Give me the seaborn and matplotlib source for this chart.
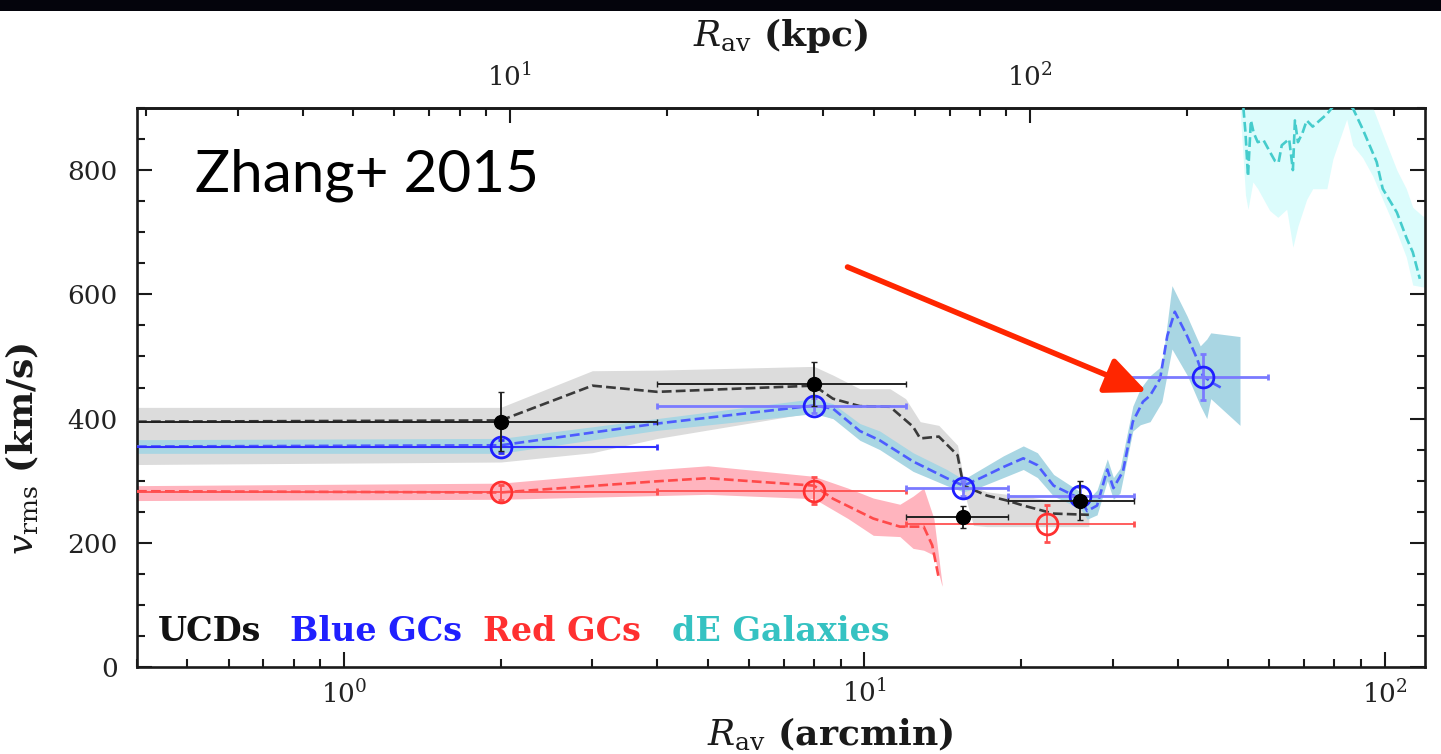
import numpy as np
import matplotlib
matplotlib.use("Agg")
import matplotlib.pyplot as plt
from matplotlib.patches import Rectangle
from matplotlib.ticker import MultipleLocator, FixedLocator, LogLocator, LogFormatterMathtext, NullFormatter
import seaborn as sns

# ---------------- binned measurements (R in arcmin, v_rms in km/s) ----------------
ucd_r = [2.0, 8.0, 15.5, 26.0]
ucd_v = [395, 456, 241, 268]
ucd_r_lo = [0.3, 4.0, 12.0, 18.9]
ucd_r_hi = [4.0, 12.0, 18.9, 33.0]
ucd_verr = [48, 35, 18, 32]

blue_r = [2.0, 8.0, 15.5, 26.0, 44.7]
blue_v = [355, 421, 288, 275, 467]
blue_r_lo = [0.3, 4.0, 12.0, 18.9, 30.0]
blue_r_hi = [4.0, 12.0, 18.9, 33.0, 59.6]
blue_verr = [10, 12, 12, 15, 37]

red_r = [2.0, 8.0, 22.4]
red_v = [281, 284, 231]
red_r_lo = [0.3, 4.0, 12.0]
red_r_hi = [4.0, 12.0, 33.0]
red_verr = [12, 22, 30]

# ---------------- running profiles: confidence band and running mean ----------------
ucd_band_r = [0.4, 2.0, 3.0, 4.0, 8.0, 8.7, 9.8, 11.2, 12.0, 12.8, 13.9, 15.1, 15.5, 16.2, 17.2, 18.8, 20.2, 23.1, 27.0]
ucd_band_lo = [326, 330, 345, 368, 410, 400, 380, 360, 345, 335, 320, 300, 285, 228, 226, 226, 226, 226, 226]
ucd_band_hi = [418, 418, 477, 478, 484, 470, 448, 448, 432, 395, 389, 357, 304, 290, 282, 278, 275, 268, 265]
ucd_mean_r = [0.4, 2.0, 3.0, 4.0, 8.0, 8.7, 9.8, 11.2, 12.4, 12.8, 13.9, 15.1, 15.5, 17.2, 18.8, 20.2, 23.1, 27.0]
ucd_mean_v = [395, 397, 453, 443, 453, 432, 420, 419, 387, 368, 371, 341, 292, 276, 268, 260, 247, 245]

blue_band_r = [0.4, 2.0, 4.0, 8.0, 8.7, 9.8, 10.7, 12.4, 14.4, 15.5, 16.7, 18.5, 20.2, 21.5, 23.1, 26.0,
               26.8, 28.0, 29.3, 30.1, 31.0, 32.8, 33.9, 35.4, 37.3, 39.0, 41.7, 44.2, 45.5, 46.3, 52.7]
blue_band_lo = [344, 344, 381, 408, 400, 365, 350, 315, 292, 282, 290, 305, 318, 305, 275, 255,
                238, 245, 300, 270, 280, 380, 390, 395, 427, 512, 470, 421, 400, 432, 389]
blue_band_hi = [366, 368, 400, 432, 424, 392, 380, 345, 318, 302, 318, 340, 356, 345, 310, 282,
                268, 285, 335, 305, 320, 420, 448, 469, 485, 614, 565, 517, 528, 538, 532]
blue_mean_r = [0.4, 2.0, 4.0, 8.0, 8.7, 9.8, 10.7, 12.4, 14.4, 15.5, 16.7, 18.5, 20.2, 21.5, 23.1, 26.0,
               26.8, 28.0, 29.3, 30.1, 31.4, 32.8, 34.3, 35.4, 37.0, 38.2, 39.5, 41.7, 43.6, 44.7, 46.5, 48.9]
blue_mean_v = [355, 357, 392, 421, 416, 380, 365, 331, 304, 292, 304, 322, 336, 325, 292, 271,
               251, 260, 318, 288, 315, 395, 427, 437, 464, 533, 572, 533, 496, 469, 458, 448]

red_band_r = [0.4, 2.0, 4.0, 5.0, 8.0, 9.3, 10.4, 11.7, 12.4, 13.0, 13.6, 14.1]
red_band_lo = [268, 270, 276, 278, 271, 239, 212, 210, 191, 188, 180, 130]
red_band_hi = [292, 296, 318, 324, 307, 288, 272, 262, 275, 288, 239, 134]
red_mean_r = [0.4, 2.0, 4.0, 5.0, 8.0, 8.7, 10.4, 11.7, 13.0, 13.5, 13.9]
red_mean_v = [283, 281, 299, 304, 292, 271, 239, 226, 226, 196, 143]

de_band_r = [52.7, 54.0, 54.6, 55.8, 57.0, 60.1, 62.3, 64.8, 66.6, 68.1, 70.8, 72.7, 77.4, 79.5,
             84.5, 86.8, 90.7, 94.9, 100.0, 105.5, 110.0, 113.2, 118.3, 121.0]
de_band_lo = [900, 760, 737, 781, 770, 735, 724, 737, 676, 710, 753, 770, 770, 818,
              882, 840, 820, 790, 745, 700, 660, 615, 612, 612]
de_band_hi = [960, 960, 960, 960, 960, 960, 960, 960, 960, 960, 960, 960, 960, 960,
              960, 930, 920, 900, 850, 800, 770, 740, 726, 726]
de_mean_r = [53.5, 54.0, 54.6, 55.3, 56.0, 57.0, 58.5, 60.1, 61.5, 62.5, 63.4, 65.5, 66.6, 67.2, 68.1,
             69.5, 70.8, 72.7, 75.0, 77.4, 80.0, 84.0, 86.8, 90.7, 96.5, 99.1, 105.5, 110.2, 113.2, 116.8]
de_mean_v = [900, 860, 790, 880, 860, 845, 848, 830, 815, 812, 840, 850, 800, 880, 845,
             860, 880, 870, 880, 890, 905, 905, 900, 866, 813, 770, 732, 690, 668, 625]

KPC_PER_ARCMIN = 4.8
kpc_major = [10, 100]
kpc_minor = [2, 3, 4, 5, 6, 7, 8, 9, 20, 30, 40, 50, 60, 70, 80, 90, 200, 300, 400, 500]

# ---------------- style ----------------
sns.set_theme(style="ticks")
plt.rcParams["font.family"] = ["DejaVu Serif"]
plt.rcParams["mathtext.fontset"] = "dejavuserif"
plt.rcParams["axes.linewidth"] = 1.9
plt.rcParams["axes.edgecolor"] = "#1a1a1a"

fig = plt.figure(figsize=(14.41, 7.54), dpi=100)
fig.patch.set_facecolor("white")
ax = fig.add_axes([137 / 1441, 1 - 667 / 754, (1425 - 137) / 1441, (667 - 108) / 754])
ax.set_facecolor("white")
ax.set_xscale("log")

# confidence bands
ax.fill_between(ucd_band_r, ucd_band_lo, ucd_band_hi, color="#dcdcdc", lw=0, zorder=1)
ax.fill_between(blue_band_r, blue_band_lo, blue_band_hi, color="#a9d6e3", lw=0, zorder=2)
ax.fill_between(red_band_r, red_band_lo, red_band_hi, color="#ffb4be", lw=0, zorder=2)
ax.fill_between(de_band_r, de_band_lo, de_band_hi, color="#dcfcfc", lw=0, zorder=2)

# running means
dash = (5.5, 3.5)
sns.lineplot(x=ucd_mean_r, y=ucd_mean_v, ax=ax, color="#3a3a3a", lw=1.9,
             linestyle="--", dashes=dash, sort=False, estimator=None, zorder=3)
sns.lineplot(x=blue_mean_r, y=blue_mean_v, ax=ax, color="#4d5cff", lw=1.9,
             linestyle="--", dashes=dash, sort=False, estimator=None, zorder=3)
sns.lineplot(x=red_mean_r, y=red_mean_v, ax=ax, color="#ff4a4a", lw=1.9,
             linestyle="--", dashes=dash, sort=False, estimator=None, zorder=3)
sns.lineplot(x=de_mean_r, y=de_mean_v, ax=ax, color="#45cccc", lw=1.9,
             linestyle="--", dashes=dash, sort=False, estimator=None, zorder=3)


def binned(r, v, lo, hi, verr, **kw):
    r = np.asarray(r, float)
    xerr = np.vstack([r - np.asarray(lo, float), np.asarray(hi, float) - r])
    ax.errorbar(r, v, xerr=xerr, yerr=verr, capsize=2.5, **kw)


binned(red_r, red_v, red_r_lo, red_r_hi, red_verr, fmt="o", ms=15, mfc="none",
       mec="#ff3030", mew=2, ecolor="#ff5050", elinewidth=1.3, zorder=5)
binned(blue_r[:1], blue_v[:1], blue_r_lo[:1], blue_r_hi[:1], blue_verr[:1], fmt="o", ms=15,
       mfc="none", mec="#1f1fff", mew=2, ecolor="#3030ff", elinewidth=1.5, zorder=6)
binned(blue_r[1:], blue_v[1:], blue_r_lo[1:], blue_r_hi[1:], blue_verr[1:], fmt="o", ms=15,
       mfc="none", mec="#1f1fff", mew=2, ecolor="#7a7aff", elinewidth=2.0, zorder=6)
binned(ucd_r, ucd_v, ucd_r_lo, ucd_r_hi, ucd_verr, fmt="o", ms=10, color="black",
       ecolor="#222222", elinewidth=1.4, zorder=7)

# axes limits and ticks
ax.set_xlim(0.4, 119.5)
ax.set_ylim(0, 900)
ax.yaxis.set_major_locator(MultipleLocator(200))
ax.yaxis.set_minor_locator(MultipleLocator(50))
ax.xaxis.set_major_locator(LogLocator(base=10))
ax.xaxis.set_minor_locator(LogLocator(base=10, subs=np.arange(2, 10)))
ax.xaxis.set_major_formatter(LogFormatterMathtext())
ax.xaxis.set_minor_formatter(NullFormatter())
ax.tick_params(which="both", direction="in", top=False, right=True, width=1.5,
               color="#1a1a1a", labelsize=19, labelcolor="#222222")
ax.tick_params(which="major", length=11)
ax.tick_params(which="minor", length=6)
ax.tick_params(axis="y", pad=14)
ax.tick_params(axis="x", pad=9)

secax = ax.secondary_xaxis("top", functions=(lambda r: r * KPC_PER_ARCMIN,
                                             lambda k: k / KPC_PER_ARCMIN))
secax.xaxis.set_major_locator(FixedLocator(kpc_major))
secax.xaxis.set_minor_locator(FixedLocator(kpc_minor))
secax.xaxis.set_major_formatter(LogFormatterMathtext())
secax.xaxis.set_minor_formatter(NullFormatter())
secax.tick_params(which="both", direction="in", width=1.5, color="#1a1a1a",
                  labelsize=19, labelcolor="#222222", pad=12)
secax.tick_params(which="major", length=11)
secax.tick_params(which="minor", length=6)
secax.spines["top"].set_linewidth(1.9)

label_kw = dict(fontsize=26, fontweight="bold", color="#1a1a1a")
ax.set_xlabel(r"$R_{\rm av}$ (arcmin)", **label_kw)
ax.xaxis.set_label_coords(0.538, -0.085)
secax.set_xlabel(r"$R_{\rm av}$ (kpc)", labelpad=12, **label_kw)
ax.set_ylabel(r"$v_{\rm rms}$ (km/s)", **label_kw)
ax.yaxis.set_label_coords(-0.075, 0.39)

# population key
key = [("UCDs", "#111111", 158), ("Blue GCs", "#2020ff", 290),
       ("Red GCs", "#ff3030", 483), ("dE Galaxies", "#35c2c2", 672)]
for name, col, xpix in key:
    ax.text((xpix - 137) / 1288, (667 - 641) / 559, name, transform=ax.transAxes,
            fontsize=24, fontweight="bold", color=col, ha="left", va="baseline", zorder=8)

ax.text((195 - 137) / 1288, (667 - 192) / 559, "Zhang+ 2015", transform=ax.transAxes,
        fontsize=42, family=["Lato", "DejaVu Sans"], color="black", ha="left",
        va="baseline", zorder=8)

# pointer to the outer blue GC rise
ax.annotate("", xy=(34.9, 443), xytext=(9.28, 644),
            arrowprops=dict(arrowstyle="-|>,head_length=0.9,head_width=0.4",
                            color="#ff2600", lw=4, mutation_scale=28,
                            shrinkA=0, shrinkB=0), zorder=9)

# dark strip along the top edge
fig.patches.append(Rectangle((0, 1 - 11 / 754), 1, 11 / 754, transform=fig.transFigure,
                             facecolor="#04040c", edgecolor="none", zorder=10))

fig.savefig("out.png", dpi=100)
